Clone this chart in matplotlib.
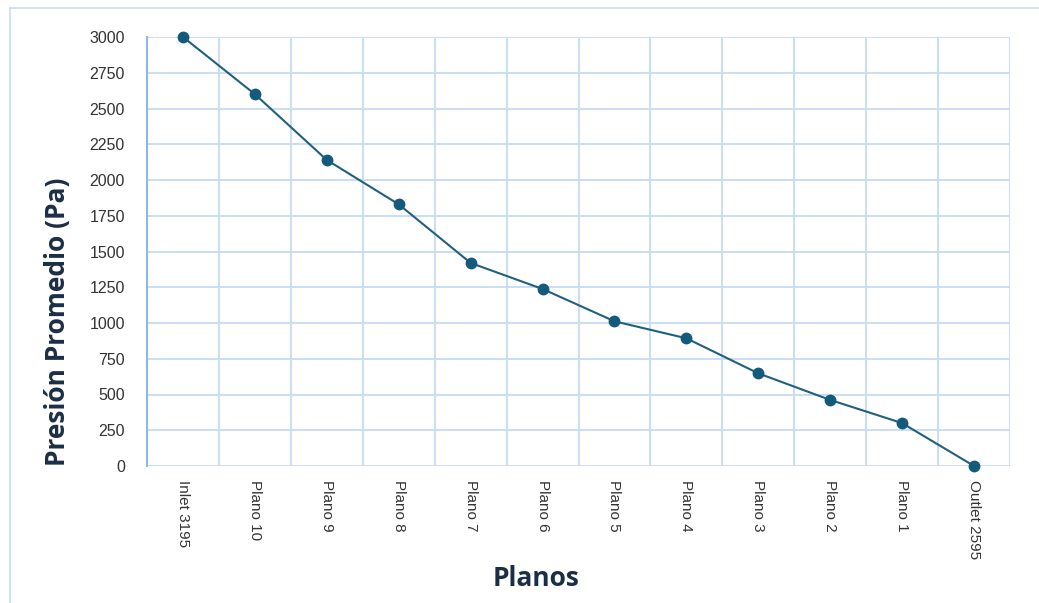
import matplotlib
matplotlib.use("Agg")
import matplotlib.pyplot as plt
from matplotlib.lines import Line2D

categories = ["Inlet 3195", "Plano 10", "Plano 9", "Plano 8", "Plano 7", "Plano 6",
              "Plano 5", "Plano 4", "Plano 3", "Plano 2", "Plano 1", "Outlet 2595"]
presion = [3000, 2600, 2140, 1830, 1420, 1238, 1012, 893, 648, 462, 300, 0]
yticks = [0, 250, 500, 750, 1000, 1250, 1500, 1750, 2000, 2250, 2500, 2750, 3000]

W, H = 1039, 603
fig = plt.figure(figsize=(W/100, H/100), dpi=100)
ax = fig.add_axes([147/W, 1-466/H, (1010-147)/W, (466-37)/H])

grid_c = "#c6dcf3"
x = list(range(len(categories)))
ax.plot(x, presion, color="#1f6080", lw=1.5, marker="o", ms=7.5,
        mfc="#145a7c", mec="#145a7c", zorder=3, clip_on=False)

ax.set_xlim(-0.5, len(categories)-0.5)
ax.set_ylim(0, 3000)
ax.set_yticks(yticks)
ax.set_yticklabels([str(v) for v in yticks], fontsize=11.5, color="#333333",
                   family="Liberation Sans")
ax.set_xticks(x)
ax.set_xticklabels(categories, rotation=-90, fontsize=11, color="#333333",
                   family="Liberation Sans", va="top", ha="center")
ax.tick_params(axis="y", length=0, pad=16)
ax.tick_params(axis="x", length=0, pad=10)

# grid
for v in yticks:
    ax.axhline(v, color=grid_c, lw=1.3, zorder=1)
for i in range(len(categories)+1):
    ax.axvline(i-0.5, color=grid_c, lw=1.3, zorder=1)
for s in ["top", "right", "bottom"]:
    ax.spines[s].set_visible(False)
ax.spines["left"].set_color("#8fb8e6")
ax.spines["left"].set_linewidth(1.5)

ax.set_ylabel("Presión Promedio (Pa)", fontsize=19, fontweight="bold",
              color="#1c2e45", family="Open Sans", labelpad=0)
ax.yaxis.set_label_coords((71-147)/(1010-147), 0.5 + (322-251.5)/-(466-37))
fig.text(536/W, 1-578/H, "Planos", fontsize=19, fontweight="bold",
         color="#1c2e45", family="Open Sans", ha="center", va="center")

# outer frame lines (chart border, cropped)
fig.add_artist(Line2D([10/W, 10/W], [0, 1-8/H], color="#c9ddf2", lw=1.2, transform=fig.transFigure))
fig.add_artist(Line2D([10/W, 1], [1-8/H, 1-8/H], color="#c9ddf2", lw=1.2, transform=fig.transFigure))

fig.savefig("out.png", dpi=100)
